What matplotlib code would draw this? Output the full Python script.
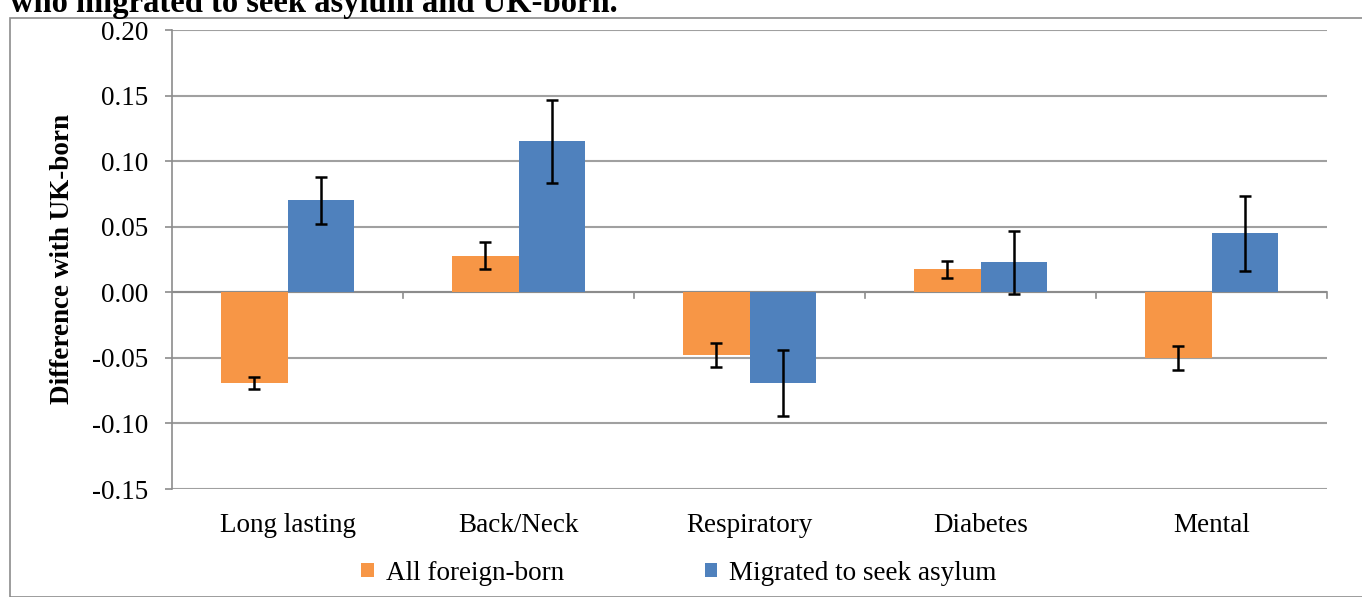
import matplotlib
matplotlib.use("Agg")
import matplotlib.pyplot as plt
import numpy as np
from matplotlib.patches import Rectangle

categories = ["Long lasting", "Back/Neck", "Respiratory", "Diabetes", "Mental"]
foreign = [-0.069, 0.028, -0.048, 0.0175, -0.050]
foreign_err = [0.0045, 0.0105, 0.009, 0.0065, 0.0093]
asylum = [0.070, 0.115, -0.069, 0.023, 0.045]
asylum_err = [0.018, 0.032, 0.025, 0.024, 0.0285]
yticks = [-0.15, -0.10, -0.05, 0.00, 0.05, 0.10, 0.15, 0.20]
series_names = ["All foreign-born", "Migrated to seek asylum"]

plt.rcParams['font.family'] = ['Liberation Serif', 'DejaVu Serif']
FS = 19.5

fig = plt.figure(figsize=(13.62, 5.97), dpi=100)
fig.patches.append(Rectangle((10/1362, 0), 1.0, 1 - 18/597, transform=fig.transFigure,
                             fill=False, edgecolor='#8c8c8c', linewidth=1.2))
fig.text(10/1362, 1 - 12/597, "who migrated to seek asylum and UK-born.", fontsize=23.5,
         fontweight='bold', va='baseline', ha='left')

ax = fig.add_axes([172/1362, 1 - 489/597, (1327-172)/1362, (489-30)/597])
x = np.arange(len(categories))
w = 0.286
orange = '#f79646'
blue = '#4f81bd'
ax.bar(x - w/2, foreign, w, color=orange, zorder=3, label=series_names[0])
ax.bar(x + w/2, asylum, w, color=blue, zorder=3, label=series_names[1])
ekw = dict(fmt='none', ecolor='black', elinewidth=1.8, capsize=4.5, capthick=1.8, zorder=4)
ax.errorbar(x - w/2, foreign, yerr=foreign_err, **ekw)
ax.errorbar(x + w/2, asylum, yerr=asylum_err, **ekw)

ax.set_xlim(-0.5, len(categories) - 0.5)
ax.set_ylim(-0.15, 0.20)
ax.set_yticks(yticks)
ax.set_yticklabels([f"{v:.2f}" for v in yticks], fontsize=FS)
ax.yaxis.grid(True, color='#a0a0a0', linewidth=1.5, zorder=0)
ax.set_axisbelow(True)
ax.tick_params(axis='y', length=5, width=1.2, color='#8c8c8c', pad=12)
for s in ['top', 'right', 'bottom']:
    ax.spines[s].set_visible(False)
ax.spines['left'].set_color('#8c8c8c')
ax.spines['left'].set_linewidth(1.2)

# x axis at zero with category boundary ticks
ax.axhline(0, color='#8c8c8c', linewidth=1.5, zorder=2)
ax.set_xticks(x)
ax.set_xticklabels(categories, fontsize=FS)
ax.tick_params(axis='x', length=0, pad=17)
for b in np.arange(0.5, len(categories), 1.0):
    ax.plot([b, b], [0, -0.0045], color='#8c8c8c', linewidth=1.2, zorder=2, clip_on=False)

ax.set_ylabel("Difference with UK-born", fontsize=FS, fontweight='bold', labelpad=12)

ax.legend(loc='center', bbox_to_anchor=(679/1362, 1 - 573/597), bbox_transform=fig.transFigure,
          ncol=2, frameon=False, fontsize=FS, handlelength=0.45, handleheight=0.45,
          handletextpad=0.45, columnspacing=5.2)

fig.savefig("out.png", dpi=100)
